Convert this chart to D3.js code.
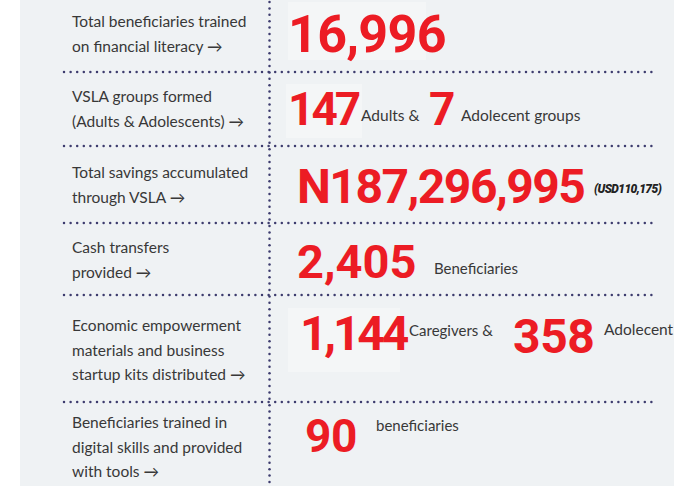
<!DOCTYPE html>
<meta charset="utf-8">
<style>
  body { margin: 0; background: #fff; }
  svg { display: block; }
</style>
<svg width="674" height="486"></svg>
<script src="https://d3js.org/d3.v7.min.js"></script>
<script>

// indicator labels (left column), one entry per line
var labels = [
  ["Total beneficiaries trained", "on financial literacy \u2192"],
  ["VSLA groups formed", "(Adults & Adolescents) \u2192"],
  ["Total savings accumulated", "through VSLA \u2192"],
  ["Cash transfers", "provided \u2192"],
  ["Economic empowerment", "materials and business", "startup kits distributed \u2192"],
  ["Beneficiaries trained in", "digital skills and provided", "with tools \u2192"]
];

// big red figures per row
var figures = [
  ["16,996"],
  ["147", "7"],
  ["N187,296,995"],
  ["2,405"],
  ["1,144", "358"],
  ["90"]
];

// small notes following each figure
var notes = [
  [],
  ["Adults &", "Adolecent groups"],
  ["(USD110,175)"],
  ["Beneficiaries"],
  ["Caregivers &", "Adolecent"],
  ["beneficiaries"]
];

var svg = d3.select("svg"),
    width = +svg.attr("width"),
    height = +svg.attr("height");

var red = "#ec1c24",
    ink = "#383838",
    dotc = "#3d3c6e";

// row separators
var seps = [72, 146, 223, 295, 402];

svg.append("rect")
    .attr("x", 20).attr("y", 0)
    .attr("width", width - 20).attr("height", height)
    .attr("fill", "#eff2f4");

// faint highlight boxes behind some figures
var boxes = [[288, 2, 138, 58], [286, 84, 76, 54], [288, 308, 112, 64]];
svg.selectAll("rect.box").data(boxes).enter().append("rect")
    .attr("class", "box")
    .attr("x", function(d) { return d[0]; })
    .attr("y", function(d) { return d[1]; })
    .attr("width", function(d) { return d[2]; })
    .attr("height", function(d) { return d[3]; })
    .attr("fill", "#f4f6f7");

// dotted separators
var g = svg.append("g");
seps.forEach(function(sy) {
  var xs = d3.range(64, 652, 6.6);
  g.selectAll(null).data(xs).enter().append("circle")
      .attr("cx", function(d) { return d; })
      .attr("cy", sy)
      .attr("r", 1.25)
      .attr("fill", dotc);
});
var ys = d3.range(2, height, 6.4);
g.selectAll(null).data(ys).enter().append("circle")
    .attr("cx", 269.5)
    .attr("cy", function(d) { return d; })
    .attr("r", 1.25)
    .attr("fill", dotc);

// left labels
var lineH = 24.5;
var firstBase = [27, 102, 178, 253, 331, 428];
labels.forEach(function(lines, i) {
  var t = svg.append("text")
      .attr("x", 72)
      .attr("y", firstBase[i])
      .attr("font-family", "Lato, 'Open Sans', sans-serif")
      .attr("font-size", 15.5)
      .attr("fill", ink);
  t.selectAll("tspan").data(lines).enter().append("tspan")
      .attr("x", 72)
      .attr("dy", function(d, j) { return j ? lineH : 0; })
      .text(function(d) { return d; });
});

// figure layout: [x, baseline, size, spacing]
var figLayout = [
  [[288, 52, 52, -0.7]],
  [[288, 125, 46, -3]],
  [[297, 203, 48, -1.5]],
  [[297, 278, 47, 0]],
  [[300, 350, 48, -3.2], [513, 353, 48, -0.4]],
  [[305, 452, 46, -0.3]]
];
figLayout[1].push([429, 125, 46, 0]);

var noteLayout = [
  [],
  [[361, 121, 15.5], [461, 121, 15.5]],
  [[594, 193, 12]],
  [[434, 274, 15]],
  [[409, 336, 15], [604, 335, 15.5]],
  [[376, 431, 15]]
];

figures.forEach(function(vals, i) {
  svg.selectAll(null).data(vals).enter().append("text")
      .attr("x", function(d, j) { return figLayout[i][j][0]; })
      .attr("y", function(d, j) { return figLayout[i][j][1]; })
      .attr("font-size", function(d, j) { return figLayout[i][j][2]; })
      .attr("letter-spacing", function(d, j) { return figLayout[i][j][3]; })
      .attr("font-family", "Roboto, sans-serif")
      .attr("font-weight", 700)
      .attr("fill", red)
      .text(function(d) { return d; });
});

notes.forEach(function(vals, i) {
  svg.selectAll(null).data(vals).enter().append("text")
      .attr("x", function(d, j) { return noteLayout[i][j][0]; })
      .attr("y", function(d, j) { return noteLayout[i][j][1]; })
      .attr("font-size", function(d, j) { return noteLayout[i][j][2]; })
      .attr("font-family", function(d) { return d.charAt(0) == "(" ? "Roboto, sans-serif" : "Lato, 'Open Sans', sans-serif"; })
      .attr("font-style", function(d) { return d.charAt(0) == "(" ? "italic" : "normal"; })
      .attr("font-weight", function(d) { return d.charAt(0) == "(" ? 900 : 400; })
      .attr("letter-spacing", function(d) { return d.charAt(0) == "(" ? -0.6 : 0; })
      .attr("fill", function(d) { return d.charAt(0) == "(" ? "#222" : ink; })
      .text(function(d) { return d; });
});

</script>
